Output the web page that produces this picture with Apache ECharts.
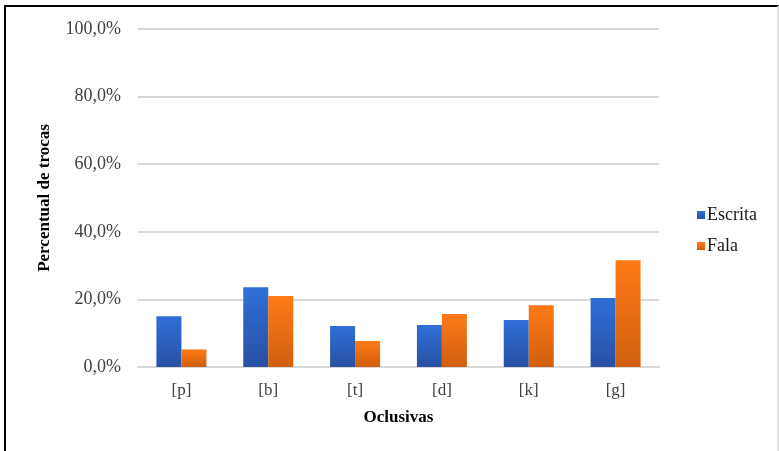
<!DOCTYPE html>
<html>
<head>
<meta charset="utf-8">
<script src="https://cdn.jsdelivr.net/npm/echarts@6/dist/echarts.min.js"></script>
<style>
  html, body { margin: 0; padding: 0; background: #fff; overflow: hidden; }
  #wrap { width: 779px; height: 451px; position: relative; }
  #chart { width: 779px; height: 451px; position: absolute; left: 0; top: 0; }
  #frame { position: absolute; left: 4px; top: 5px; width: 771px; height: 452px; border: 2px solid #000; border-right-color: #e6e6e6; border-bottom: none; pointer-events: none; }
</style>
</head>
<body>
<div id="wrap">
  <div id="chart"></div>
  <div id="frame"></div>
</div>
<script>
// Occlusive consonants and share of substitutions (percent)
const categories = ['[p]', '[b]', '[t]', '[d]', '[k]', '[g]'];
const escrita = [15.0, 23.6, 12.1, 12.4, 13.9, 20.4];
const fala = [5.2, 21.0, 7.7, 15.7, 18.3, 31.6];
const yTicks = [0, 20, 40, 60, 80, 100];

const serif = '"Liberation Serif", "Times New Roman", serif';

function grad(top, bottom) {
  return new echarts.graphic.LinearGradient(0, 0, 0, 1, [
    { offset: 0, color: top },
    { offset: 1, color: bottom }
  ]);
}

const chart = echarts.init(document.getElementById('chart'));
chart.setOption({
  animation: false,
  backgroundColor: 'transparent',
  grid: { left: 138, right: 120, top: 29, bottom: 84, containLabel: false },
  legend: {
    orient: 'vertical',
    left: 692,
    top: 201,
    itemWidth: 8,
    itemHeight: 8,
    itemGap: 13,
    icon: 'rect',
    data: ['Escrita', 'Fala'],
    textStyle: { fontFamily: serif, fontSize: 18, color: '#1a1a1a', lineHeight: 18, padding: [0, 0, 0, -3] }
  },
  xAxis: {
    type: 'category',
    data: categories,
    name: 'Oclusivas',
    nameLocation: 'middle',
    nameGap: 42,
    nameTextStyle: { fontFamily: serif, fontSize: 17, fontWeight: 'bold', color: '#000' },
    axisLine: { show: true, lineStyle: { color: '#d9d9d9', width: 2 } },
    axisTick: { show: false },
    axisLabel: { fontFamily: serif, fontSize: 17, color: '#404040', margin: 15 }
  },
  yAxis: {
    type: 'value',
    min: 0,
    max: 100,
    interval: 20,
    name: 'Percentual de trocas',
    nameLocation: 'middle',
    nameGap: 85,
    nameTextStyle: { fontFamily: serif, fontSize: 17, fontWeight: 'bold', color: '#000' },
    axisLine: { show: false },
    axisTick: { show: false },
    splitLine: { lineStyle: { color: '#d9d9d9', width: 2 } },
    axisLabel: {
      fontFamily: serif, fontSize: 18, color: '#404040', margin: 17,
      customValues: yTicks,
      formatter: v => v.toFixed(1).replace('.', ',') + '%'
    }
  },
  series: [
    {
      name: 'Escrita',
      type: 'bar',
      data: escrita,
      barWidth: 25,
      barGap: '0%',
      itemStyle: { color: grad('#2f6fd8', '#2950a3') }
    },
    {
      name: 'Fala',
      type: 'bar',
      data: fala,
      barWidth: 25,
      barGap: '0%',
      itemStyle: { color: grad('#ff7a16', '#cf5f10') }
    }
  ]
});
</script>
</body>
</html>
